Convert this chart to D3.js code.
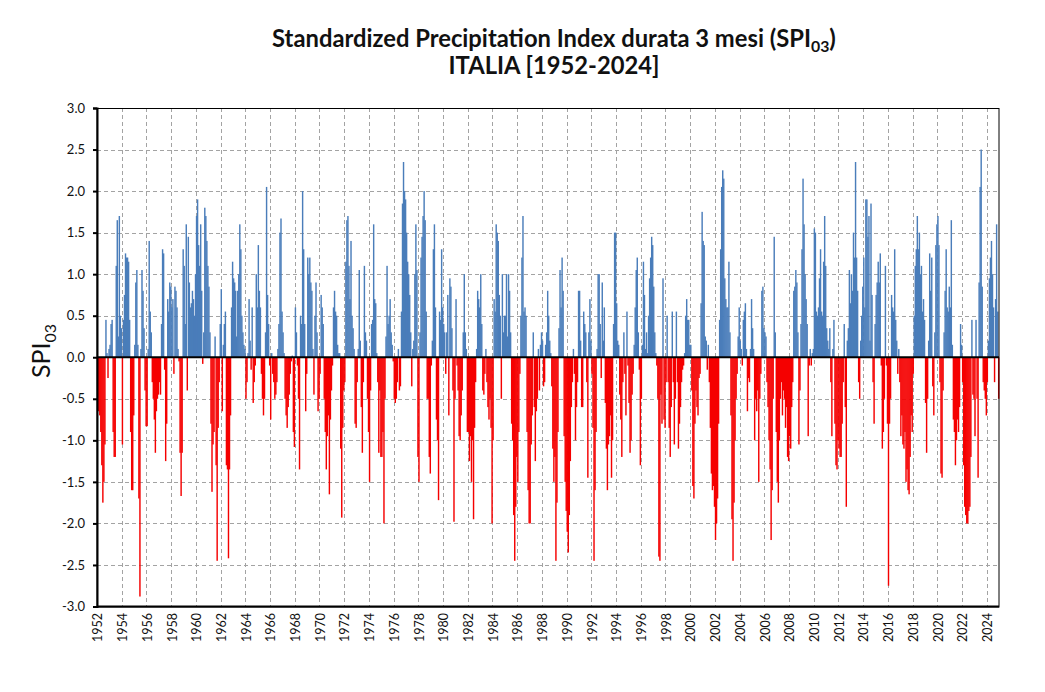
<!DOCTYPE html>
<html>
<head>
<meta charset="utf-8">
<script src="https://cdn.jsdelivr.net/npm/d3@7"></script>
<style>
  body { margin: 0; background: #fff; }
  svg text { font-family: Lato, "Open Sans", sans-serif; fill: #111; }
</style>
</head>
<body>
<div id="chart"></div>
<script>
// SPI 3 mesi, valori mensili (gen..dic)
const spi1950s = [
  [-0.55,-0.65,-0.7,-0.9,-1.3,-1.75,-1.5,-1.05,0.45,0.05,-0.25,0.1],   // 1952
  [0.15,0.4,0.45,-0.9,-1.2,-1.2,1.1,1.65,0.25,1.7,0.5,0.35],
  [-1.05,0.45,0.75,1.25,1.2,1.2,1.15,0.45,-0.9,-1.6,-1.6,-0.7],
  [0.15,0.9,1.05,0.15,-1.7,-2.88,0.1,1.05,0.8,0.35,-0.4,-0.83],
  [-0.83,0.1,1.4,0.55,0.3,-0.3,-0.5,-0.75,-1.15,-0.65,-0.5,-0.45],
  [-0.3,-0.45,0.4,1.3,1.25,-0.15,-1.25,-0.8,0.7,0.55,0.9,0.85],
  [0.6,0.7,-0.2,0.85,0.8,0.6,0.1,-0.05,-1.15,-1.67,-1.15,1.3],
  [1.1,0.4,1.6,-0.4,1.45,0.9,0.6,0.65,0.8,0.7,0.5,1.0]
];
const spi1960s = [
  [1.7,1.9,1.35,1.1,1.6,0.8,-0.08,0.3,1.8,1.7,1.4,1.1],
  [0.85,0.3,-0.8,-1.62,-1.05,-0.9,0.25,-1.3,-2.45,-0.85,-0.3,0.4],
  [0.82,-0.65,0.15,0.4,0.55,-1.3,-1.35,-2.42,-1.35,-0.7,0.6,1.15],
  [0.95,0.9,0.8,0.25,0.8,1.0,1.6,1.3,0.5,0.3,0.15,0.1],
  [-0.5,-0.3,0.05,0.7,0.2,-0.15,0.6,-0.55,-0.3,-0.1,1.0,0.6],
  [1.35,0.8,0.6,-0.2,-0.5,-0.7,-0.5,0.3,2.05,0.75,0.4,-0.1],
  [-0.75,0.05,-0.2,-0.3,-0.5,-0.45,-0.3,0.1,0.4,1.5,1.67,0.55],
  [0.3,0.05,-0.5,-0.7,-0.85,-0.6,-0.45,-0.2,-0.05,0.02,-0.9,-1.08],
  [0.6,0.3,-0.1,-0.5,-1.35,0.5,0.4,2.0,1.3,0.4,-0.65,-0.2],
  [1.2,1.0,1.2,0.9,0.8,0.1,-0.45,0.5,0.9,0.3,-0.65,-0.5]
];
const spi1970s = [
  [-0.2,0.75,0.6,0.4,-0.5,-0.9,-1.35,-0.95,-0.7,-1.65,-0.75,-0.4],
  [-0.1,0.6,0.8,0.55,0.5,0.15,0.05,0.05,-1.1,-1.93,-0.85,-0.4],
  [-0.3,1.15,1.65,1.7,1.1,0.7,1.4,0.5,0.35,0.1,-0.8,-0.85],
  [-0.3,0.1,1.05,0.2,-0.6,-1.15,-0.3,1.1,0.3,0.2,-0.5,-0.9],
  [-1.5,-0.4,0.4,0.45,1.6,0.7,0.65,0.05,-0.3,-1.15,-0.4,-1.2],
  [-1.2,-0.9,-2.0,-0.5,0.25,1.1,0.4,0.5,0.7,0.3,0.15,-0.05],
  [-0.5,-0.55,-0.5,-0.3,0.1,-0.4,-0.35,0.55,1.85,2.35,2.0,1.9],
  [1.5,1.15,1.0,0.75,0.3,-0.35,0.1,0.2,1.0,1.6,1.05,-1.2],
  [-1.5,0.3,1.2,1.45,1.7,2.0,1.65,0.55,-0.5,-0.5,-1.2,-1.4],
  [-0.1,0.2,1.3,1.6,0.6,-0.75,-1.0,-1.72,0.55,0.45,1.3,0.6]
];
const spi1980s = [
  [0.4,0.3,-0.2,0.3,0.75,-0.7,0.95,0.85,0.35,-0.4,-1.98,-0.5],
  [0.7,-0.1,-0.4,-0.95,-1.0,-0.7,-0.4,0.3,1.0,0.3,0.1,-0.9],
  [-0.9,-1.25,-0.95,-1.5,-1.0,-1.95,-0.85,-0.3,0.1,0.8,0.7,0.6],
  [1.0,0.4,-0.4,-0.45,-0.2,0.1,-0.3,-0.6,-0.75,-0.5,-0.85,-2.0],
  [-1.0,0.7,0.55,1.6,1.5,1.4,0.75,0.5,-0.5,1.0,0.3,0.5],
  [0.5,1.0,0.25,1.0,0.8,0.3,-0.8,-1.0,-1.9,-2.45,-1.8,-1.2],
  [-1.5,-0.9,-0.2,0.5,1.2,1.7,0.55,0.6,0.5,-0.9,-1.6,-2.0],
  [-2.0,-1.05,-0.7,0.3,-0.6,-1.25,-0.65,-0.5,0.1,-0.4,0.15,0.3],
  [0.2,-0.35,-0.3,0.15,0.3,0.8,0.5,0.2,0.05,-0.35,-1.1,-1.5],
  [-1.2,-2.45,-1.75,-0.9,0.35,1.05,0.6,1.2,0.8,-0.95,-1.5,-1.85]
];
const spi1990s = [
  [-2.1,-2.35,-1.9,-1.25,-0.6,-0.3,0.1,-0.2,-1.0,-0.6,-0.3,0.8],
  [0.8,0.2,-0.6,-0.6,0.55,0.4,0.3,-0.3,-1.45,0.3,0.7,0.2],
  [-0.2,-0.85,-2.45,-1.6,-0.9,0.1,1.0,1.0,0.4,-0.25,0.9,0.2],
  [0.6,-0.55,-1.1,-1.6,-1.05,-0.95,-0.7,-1.45,-1.0,0.4,1.5,1.5],
  [0.65,0.2,0.15,-0.45,-0.75,-1.2,-0.3,0.3,-0.2,-0.7,0.55,-0.1],
  [-0.55,-1.15,-1.0,-0.45,-0.2,0.15,0.6,1.05,1.2,0.3,-0.15,-1.3],
  [-0.5,0.15,1.15,0.75,0.1,0.3,0.05,0.5,0.95,1.2,1.45,1.35],
  [0.85,0.3,0.05,-0.1,-0.5,-2.4,-2.45,-0.45,-0.8,0.95,-0.75,-0.85],
  [-0.3,0.5,-0.3,-0.85,-1.2,-0.6,0.55,-0.3,-1.05,-0.5,0.55,-0.3],
  [-1.1,-0.8,-0.6,-0.3,-0.15,-0.1,0.05,0.5,0.7,0.45,0.45,0.15]
];
const spi2000s = [
  [0.15,-0.4,-1.55,-1.7,-0.8,-0.4,-0.6,-0.7,-0.25,-0.2,0.65,1.75],
  [1.4,1.35,0.25,0.2,-0.15,0.15,-0.3,-0.85,-1.4,-1.6,-1.55,-1.8],
  [-2.2,-2.0,-1.7,-0.8,0.45,1.3,2.05,2.25,2.15,0.95,0.7,0.6],
  [0.6,1.15,0.3,-0.7,-1.95,-2.45,-1.75,-1.0,-0.5,-0.2,0.25,0.6],
  [0.2,0.1,-0.1,0.45,0.55,0.65,0.1,-0.65,-0.25,-0.3,0.1,0.7],
  [0.35,0.1,-1.0,-0.5,-0.65,-0.4,-1.5,-0.5,-0.2,0.8,0.85,0.35],
  [0.3,0.25,-0.3,-0.6,-1.0,-1.35,-2.2,-1.6,-0.5,1.45,0.3,-0.9],
  [-1.5,-1.75,-1.0,-0.5,-0.3,-0.7,-0.4,-0.5,-0.85,-0.6,-1.2,-1.25],
  [-0.95,-1.1,-0.6,-0.3,0.8,0.85,1.05,0.9,0.3,-1.05,-0.4,0.4],
  [1.3,2.15,1.6,1.0,0.7,0.4,-0.95,-0.1,0.1,-0.1,0.05,0.1]
];
const spi2010s = [
  [1.55,1.5,0.55,0.5,0.6,0.95,1.3,0.55,0.5,1.15,1.7,1.1],
  [0.35,0.2,0.1,0.35,-0.3,-0.95,0.1,0.45,-0.8,-1.3,-1.35,-1.0],
  [-1.1,-1.2,-1.2,-0.8,-0.3,0.4,-0.6,-1.8,0.2,0.35,1.05,0.65],
  [1.0,0.8,1.5,1.2,2.35,1.2,0.8,-0.3,-0.5,0.2,0.5,0.85],
  [1.2,0.6,1.9,1.9,1.45,1.7,0.2,1.85,0.75,-0.3,-0.8,0.4],
  [0.75,0.9,1.15,0.9,1.25,-0.1,-1.1,-0.9,-0.5,1.1,-0.1,-0.8],
  [-2.75,-0.8,-0.5,0.75,0.6,0.55,1.3,0.45,0.2,-0.2,0.1,-0.3],
  [-0.95,-0.7,-1.05,-1.1,-0.9,-1.5,-1.35,-1.6,-1.65,-1.2,-0.7,-0.9],
  [-0.2,0.5,1.1,1.3,1.7,1.3,1.5,1.0,1.1,0.55,0.7,0.45],
  [-0.55,-1.15,-0.5,0.2,1.25,0.8,1.2,-0.35,-0.7,0.3,1.35,1.6]
];
const spi2020s = [
  [1.7,1.35,-0.3,-1.4,-1.45,-0.4,0.3,0.8,1.3,0.6,0.55,0.85],
  [0.6,1.65,0.15,-0.75,-0.9,-1.3,-1.0,-0.75,-0.9,-0.6,0.4,0.15],
  [-0.3,-1.3,-1.8,-1.9,-2.0,-2.0,-1.85,-1.8,-1.2,0.45,-0.45,-0.5],
  [-0.95,0.45,-0.5,-1.45,0.9,2.05,2.5,0.85,-0.3,-0.4,-0.5,-0.7],
  [-0.3,0.2,0.95,1.2,1.4,1.0,0.6,-0.3,0.7,1.6,0.55,-0.5]       // 2024
];

const firstYear = 1952;
const yearLabels = [1952,1954,1956,1958,1960,1962,1964,1966,1968,1970,1972,1974,
  1976,1978,1980,1982,1984,1986,1988,1990,1992,1994,1996,1998,2000,2002,2004,
  2006,2008,2010,2012,2014,2016,2018,2020,2022,2024];
const yTickValues = [-3,-2.5,-2,-1.5,-1,-0.5,0,0.5,1,1.5,2,2.5,3];

const values = [].concat(
  ...spi1950s, ...spi1960s, ...spi1970s, ...spi1980s,
  ...spi1990s, ...spi2000s, ...spi2010s, ...spi2020s
);
const nYears = values.length / 12;

const width = 1045, height = 692;
const plot = { left: 97, right: 999, top: 108, bottom: 606.5 };

const svg = d3.select("#chart").append("svg")
    .attr("width", width)
    .attr("height", height);

const x = d3.scaleLinear()
    .domain([firstYear, firstYear + nYears])
    .range([plot.left, plot.right]);
const y = d3.scaleLinear()
    .domain([-3, 3])
    .range([plot.bottom, plot.top]);

// griglia tratteggiata
const grid = svg.append("g")
    .attr("stroke", "#a3a3a3")
    .attr("stroke-width", 1)
    .attr("stroke-dasharray", "4,3");
grid.selectAll(".hgrid")
    .data(yTickValues.filter(v => v > -3 && v < 3 && v !== 0))
    .enter().append("line")
    .attr("x1", plot.left).attr("x2", plot.right)
    .attr("y1", d => Math.round(y(d)) + 0.5)
    .attr("y2", d => Math.round(y(d)) + 0.5);
grid.selectAll(".vgrid")
    .data(yearLabels.slice(1))
    .enter().append("line")
    .attr("x1", d => Math.round(x(d)) + 0.5)
    .attr("x2", d => Math.round(x(d)) + 0.5)
    .attr("y1", plot.top).attr("y2", plot.bottom);

// barre mensili (leggera sovrapposizione per evitare aloni chiari)
svg.append("g").selectAll("rect")
    .data(values)
    .enter().append("rect")
    .attr("x", (d, i) => x(firstYear + i / 12))
    .attr("width", (d, i) => x(firstYear + (i + 1) / 12) - x(firstYear + i / 12) + 0.4)
    .attr("y", d => y(Math.max(0, d)))
    .attr("height", d => Math.abs(y(d) - y(0)))
    .attr("fill", d => d >= 0 ? "#4A7DBA" : "#F50000");

// linea dello zero
svg.append("line")
    .attr("x1", plot.left).attr("x2", plot.right)
    .attr("y1", y(0)).attr("y2", y(0))
    .attr("stroke", "#000").attr("stroke-width", 2);

// cornice
svg.append("rect")
    .attr("x", plot.left).attr("y", plot.top + 0.5)
    .attr("width", plot.right - plot.left).attr("height", plot.bottom - plot.top)
    .attr("fill", "none").attr("stroke", "#000").attr("stroke-width", 1);
svg.append("line")
    .attr("x1", plot.left).attr("x2", plot.right)
    .attr("y1", plot.bottom).attr("y2", plot.bottom)
    .attr("stroke", "#000").attr("stroke-width", 2);

// asse y
const yAxis = svg.append("g")
    .attr("transform", `translate(${plot.left},0)`)
    .call(d3.axisLeft(y).tickValues(yTickValues).tickSize(4).tickPadding(8)
        .tickFormat(d => d.toFixed(1)));
yAxis.select(".domain").attr("stroke-width", 2).attr("stroke", "#000");
yAxis.selectAll(".tick line").attr("stroke-width", 2).attr("stroke", "#000");
yAxis.selectAll("text").style("font-size", "13px").attr("fill", "#111");

// etichette anni
svg.append("g").selectAll("text")
    .data(yearLabels)
    .enter().append("text")
    .attr("transform", d => `translate(${x(d) + 1},613) rotate(-90)`)
    .attr("dy", "0.35em")
    .style("text-anchor", "end")
    .style("font-size", "12.5px")
    .text(d => d);

// titolo asse y
const yLabel = svg.append("text")
    .attr("transform", "translate(50,351) rotate(-90)")
    .style("text-anchor", "middle")
    .style("font-size", "25px");
yLabel.append("tspan").text("SPI");
yLabel.append("tspan").text("03").style("font-size", "16px").attr("dy", 6);

// titolo: carattere compresso in orizzontale per somigliare al Calibri
const titleSize = 24;
const titleG = svg.append("g");
const t1 = titleG.append("text")
    .attr("x", 0).attr("y", 47)
    .style("text-anchor", "middle")
    .style("font-weight", "bold")
    .style("font-size", titleSize + "px");
t1.append("tspan").text("Standardized Precipitation Index durata 3 mesi (SPI");
t1.append("tspan").text("03").style("font-size", "16px").attr("dy", 5);
t1.append("tspan").text(")").attr("dy", -5);

const t2 = titleG.append("text")
    .attr("x", 0).attr("y", 74)
    .style("text-anchor", "middle")
    .style("font-weight", "bold")
    .style("font-size", titleSize + "px")
    .text("ITALIA [1952-2024]");

const w1 = t1.node().getComputedTextLength();
const sx = w1 > 0 ? 564 / w1 : 1;
titleG.attr("transform", `translate(554,0) scale(${sx},1)`);
</script>
</body>
</html>
